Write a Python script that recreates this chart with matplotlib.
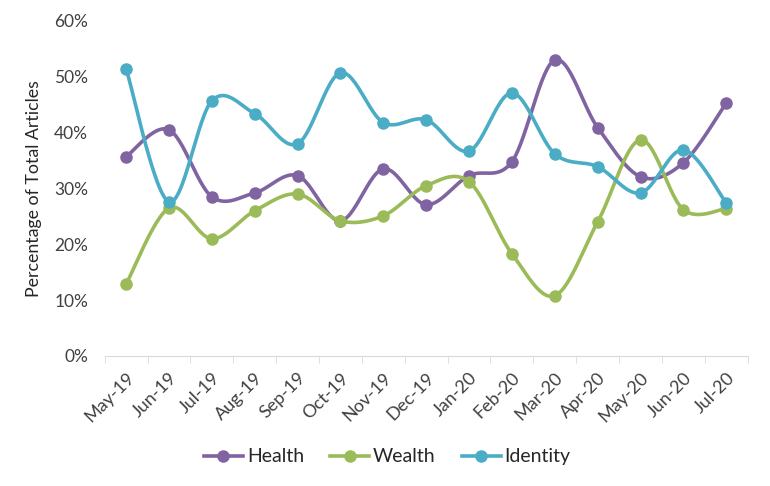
import numpy as np
import matplotlib
matplotlib.use("Agg")
import matplotlib.pyplot as plt
from matplotlib.ticker import PercentFormatter

plt.rcParams['font.family'] = ['Lato', 'DejaVu Sans']

months = ["May-19", "Jun-19", "Jul-19", "Aug-19", "Sep-19", "Oct-19", "Nov-19", "Dec-19",
          "Jan-20", "Feb-20", "Mar-20", "Apr-20", "May-20", "Jun-20", "Jul-20"]
health = [35.7, 40.5, 28.5, 29.2, 32.3, 24.2, 33.5, 27.1, 32.3, 34.8, 53.0, 40.9, 32.1, 34.6, 45.3]
wealth = [12.9, 26.5, 21.0, 26.0, 29.0, 24.2, 25.1, 30.5, 31.2, 18.3, 10.8, 24.0, 38.7, 26.2, 26.4]
identity = [51.4, 27.6, 45.7, 43.4, 38.0, 50.7, 41.8, 42.3, 36.7, 47.1, 36.2, 33.9, 29.2, 36.9, 27.4]

colors = {"Health": "#8064A2", "Wealth": "#9BBB59", "Identity": "#4BACC6"}


# smoothed line like excel (catmull-rom between the points)
def smooth(x, y, n=30):
    x = np.asarray(x, float)
    y = np.asarray(y, float)
    px = np.concatenate([[x[0]], x, [x[-1]]])
    py = np.concatenate([[y[0]], y, [y[-1]]])
    xs, ys = [], []
    t = np.linspace(0, 1, n)
    for i in range(1, len(px) - 2):
        for p, out in ((px, xs), (py, ys)):
            p0, p1, p2, p3 = p[i - 1], p[i], p[i + 1], p[i + 2]
            c1 = p1 + (p2 - p0) / 6
            c2 = p2 - (p3 - p1) / 6
            out.extend((1 - t) ** 3 * p1 + 3 * (1 - t) ** 2 * t * c1 + 3 * (1 - t) * t ** 2 * c2 + t ** 3 * p2)
    return np.array(xs), np.array(ys)


fig = plt.figure(figsize=(7.7, 4.86), dpi=100)
ax = fig.add_axes([0.136, 0.2675, 0.835, 0.6895])

x = np.arange(len(months))
for name, vals in (("Health", health), ("Wealth", wealth), ("Identity", identity)):
    sx, sy = smooth(x, vals)
    ax.plot(sx, sy, color=colors[name], lw=2.6, solid_capstyle='round')
    ax.plot(x, vals, 'o', color=colors[name], ms=8)
    ax.plot([], [], '-o', color=colors[name], lw=2.6, ms=8, label=name)

ax.set_xlim(-0.5, len(months) - 0.5)
ax.set_ylim(0, 60)
ax.set_yticks(range(0, 61, 10))
ax.yaxis.set_major_formatter(PercentFormatter(decimals=0))
ax.set_xticks(x)
ax.set_xticklabels(months, rotation=45, ha='right', rotation_mode='anchor')
ax.set_xticks(np.arange(-0.5, len(months), 1), minor=True)
ax.tick_params(axis='x', which='major', length=0, pad=10, labelsize=13)
ax.tick_params(axis='x', which='minor', length=5, color='#d9d9d9')
ax.tick_params(axis='y', length=0, pad=12, labelsize=12.5)
ax.tick_params(labelcolor='#404040')

for s in ('top', 'right', 'left'):
    ax.spines[s].set_visible(False)
ax.spines['bottom'].set_color('#d9d9d9')

ax.set_ylabel("Percentage of Total Articles", fontsize=12.8, color='#262626', labelpad=9)

fig.legend(loc='center', bbox_to_anchor=(0.503, 0.06), ncol=3, frameon=False,
           fontsize=14, handlelength=2.0, columnspacing=1.35, handletextpad=0.2,
           labelcolor='#262626')

fig.savefig("out.png", dpi=100)
